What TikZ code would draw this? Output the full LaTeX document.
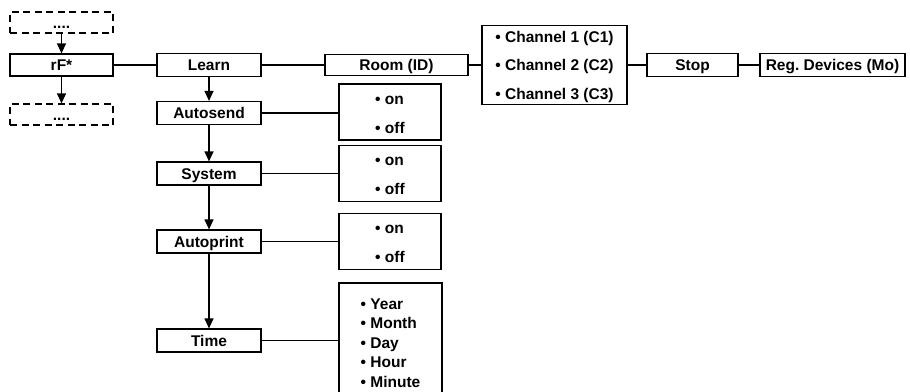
\documentclass[tikz,border=0pt]{standalone}
\usepackage{fontspec}
\setmainfont{Liberation Sans}
\frenchspacing
\usetikzlibrary{arrows.meta}
\begin{document}
\begin{tikzpicture}[x=1pt,y=-1pt,
  every node/.style={font=\bfseries\fontsize{15.5}{18}\selectfont, inner sep=0pt, line width=1.2pt},
  box/.style={draw, minimum width=103pt, minimum height=22pt, text height=11pt, text depth=0pt, anchor=center},
  dbox/.style={box, dash pattern=on 7pt off 4.5pt},
  list/.style={draw, align=left, anchor=center},
  onoff/.style={list, minimum width=102pt, minimum height=56pt, font=\bfseries\fontsize{15.5}{29}\selectfont},
  arr/.style={line width=1.2pt, -{Triangle[width=9pt,length=10pt]}},
  ln/.style={line width=1.2pt}]
\useasboundingbox (0,0) rectangle (910,391);
\begin{scope}
\clip (0,0) rectangle (910,391);
\node[dbox, minimum height=21pt] (dtop) at (61.5,22.5) {....};
\node[box] (rf) at (61.5,65) {rF*};
\node[dbox, minimum height=21pt] (dbot) at (61.5,114.5) {....};
\node[box, minimum width=104pt, minimum height=23pt] (learn) at (209,65) {Learn};
\node[box, minimum width=143pt, minimum height=21pt] (room) at (396.5,65) {Room (ID)};
\node[list, minimum width=145pt, minimum height=79pt, font=\bfseries\fontsize{15.5}{28.5}\selectfont] (chan) at (554.5,65) {\rule{0pt}{14.5pt}• Channel 1 (C1)\\• Channel 2 (C2)\\• Channel 3 (C3)};
\node[box, minimum width=91pt, minimum height=23pt] (stop) at (692.5,65) {Stop};
\node[box, minimum width=145pt, minimum height=23pt] (reg) at (832.5,65) {Reg. Devices (Mo)};

\node[box, minimum width=104pt, minimum height=23pt] (auto) at (209,113) {Autosend};
\node[box, minimum width=104pt, minimum height=23pt] (sys) at (209,173.5) {System};
\node[box, minimum width=104pt, minimum height=23pt] (aprint) at (209,241.5) {Autoprint};
\node[box, minimum width=104pt, minimum height=23pt] (time) at (209,340.5) {Time};

\node[onoff] (oo1) at (390,112) {\rule{0pt}{14pt}• on\\• off};
\node[onoff] (oo2) at (390,173.5) {\rule{0pt}{14pt}• on\\• off};
\node[onoff] (oo3) at (390,241.5) {\rule{0pt}{14pt}• on\\• off};
\node[list, minimum width=103pt, minimum height=120pt, font=\bfseries\fontsize{15.5}{19.5}\selectfont] (tbox) at (390.5,343) {• Year\\• Month\\• Day\\• Hour\\• Minute};

\draw[arr] (dtop) -- (rf);
\draw[arr] (rf) -- (dbot);
\draw[ln] (rf) -- (learn);
\draw[ln] (learn) -- (room);
\draw[ln] (room) -- (chan);
\draw[ln] (chan) -- (stop);
\draw[ln] (stop) -- (reg);
\draw[arr] (learn) -- (auto);
\draw[arr] (auto) -- (sys);
\draw[arr] (sys) -- (aprint);
\draw[arr] (aprint) -- (time);
\draw[ln] (auto.east) -- (auto.east -| oo1.west);
\draw[ln] (sys.east) -- (sys.east -| oo2.west);
\draw[ln] (aprint.east) -- (aprint.east -| oo3.west);
\draw[ln] (time.east) -- (time.east -| tbox.west);
\end{scope}
\end{tikzpicture}
\end{document}
